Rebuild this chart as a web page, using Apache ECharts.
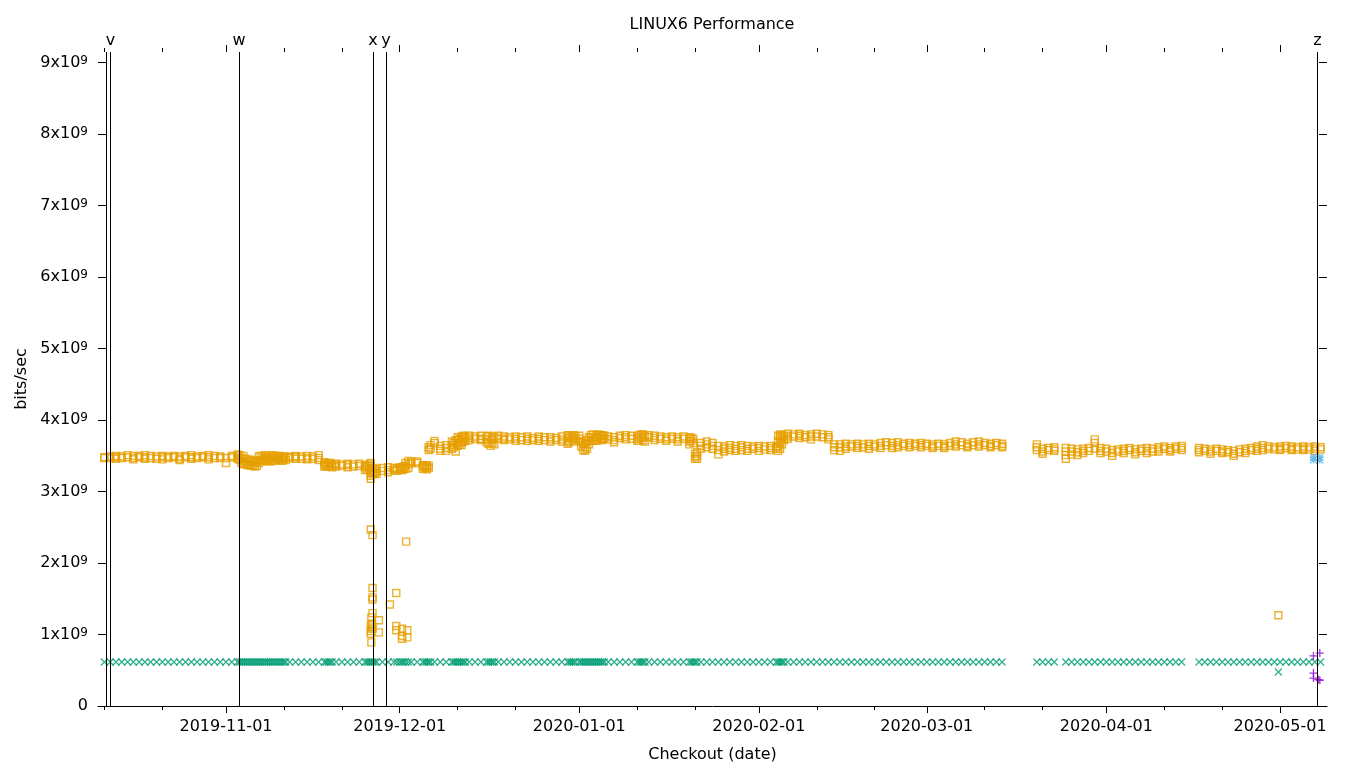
<!DOCTYPE html>
<html><head><meta charset="utf-8">
<script src="https://cdn.jsdelivr.net/npm/echarts@6/dist/echarts.min.js"></script>
<style>html,body{margin:0;padding:0;background:#fff}#c{width:1360px;height:768px}</style>
</head><body><div id="c"></div>
<script>
// ---- data (days counted from 2019-10-01 UTC, values in units of 1e9 bits/sec) ----
const monthTicks = ['2019-11-01','2019-12-01','2020-01-01','2020-02-01','2020-03-01','2020-04-01','2020-05-01'];
const minorTickDates = ['2019-10-11','2019-10-21','2019-11-11','2019-11-21','2019-12-11','2019-12-21','2020-01-11','2020-01-21',
  '2020-02-11','2020-02-21','2020-03-11','2020-03-21','2020-04-11','2020-04-21'];
const yTicksG = [0,1,2,3,4,5,6,7,8,9];

const checkoutDays = [
 10,11,12,13,14,15,16,17,18,19,20,21,22,23,24,25,26,27,28,29,30,31,32,
 33,33.33,33.67,34,34.33,34.67,35,35.33,35.67,36,36.33,36.67,37,37.33,37.67,38,38.33,38.67,39,39.33,39.67,40,40.33,40.67,41,41.33,
 42,43,44,45,46,47,48,48.33,48.67,49,49.33,50,51,52,53,54,55,55.33,55.67,56,56.33,56.67,57,58,59,60,60.5,61,61.33,61.67,62,62.5,
 63,64,65,65.33,65.67,66,66.33,67,68,69,70,70.33,70.67,71,71.33,71.67,72,72.33,73,74,75,76,76.33,76.67,77,77.33,78,79,80,81,82,83,
 84,85,86,87,88,89,90,90.33,90.67,91,91.33,92,92.33,92.67,93,93.33,93.67,94,94.33,94.67,95,95.33,95.67,96,96.33,97,98,99,100,101,
 102,102.33,102.67,103,103.33,104,105,106,107,108,109,110,111,111.33,111.67,112,112.33,113,114,115,116,117,118,119,120,121,122,123,
 124,125,126,126.33,126.67,127,127.33,128,129,130,131,132,133,134,135,
 136,137,138,139,140,141,142,143,144,145,146,147,148,149,150,151,152,153,154,155,156,157,158,159,160,161,162,163,164,165,
 171,172,173,174,
 176,177,178,179,180,181,182,183,184,185,186,187,188,189,190,191,192,193,194,195,196,
 199,200,201,202,203,204,205,206,207,208,209,210,211,212,213,214,215,216,217,218,219,220
];
const squareRuns = [
 [3.48,3.47],[3.49,3.47],[3.50,3.48,3.46],[3.49,3.47],[3.51,3.48],[3.50,3.47,3.45],[3.50,3.48],[3.51,3.48,3.46],[3.50,3.47],[3.49,3.46],
 [3.50,3.48,3.45],[3.49,3.47],[3.50,3.48],[3.49,3.46,3.44],[3.50,3.48],[3.51,3.48,3.46],[3.49,3.47],[3.50,3.48],[3.51,3.48,3.45],[3.50,3.47],
 [3.49,3.47],[3.40,3.47],[3.50,3.48],
 [3.52,3.49,3.46],[3.51,3.44],[3.47,3.40],[3.50,3.42,3.38],[3.46,3.39],[3.43,3.37],[3.45,3.38],[3.42,3.36],[3.44,3.37],[3.41,3.35],
 [3.43,3.36],[3.49,3.40],[3.50,3.44],[3.47,3.42],[3.51,3.45],[3.48,3.43],[3.50,3.44],[3.47,3.42],[3.51,3.46],[3.49,3.43],[3.50,3.45],
 [3.48,3.44],[3.50,3.46],[3.47,3.43],[3.49,3.45],[3.48,3.44],
 [3.49,3.47],[3.50,3.48,3.46],[3.49,3.46],[3.50,3.47,3.45],[3.49,3.46],[3.51,3.47,3.44],[3.41,3.37,3.35],[3.39,3.35],[3.40,3.36],
 [3.40,3.36],[3.38,3.34],[3.39,3.37,3.35],[3.38,3.36],[3.39,3.37,3.34],[3.38,3.35],[3.39,3.36],[3.37,3.34,3.30],[3.36,3.31],[3.38,3.33],
 [3.40,3.36,3.31,3.26,3.22,3.18],[3.33,3.28,3.24],[3.31,3.26],[3.32,3.28,3.25],[3.33,3.29],[3.34,3.30,3.27],[3.33,3.30],[3.32,3.29],
 [3.34,3.31],[3.33,3.30],[3.35,3.31],[3.40,3.36,3.32],[3.43,3.38,3.33],
 [3.42,3.40],[3.42,3.40],[3.37,3.35,3.32],[3.36,3.33],[3.37,3.34,3.31],[3.36,3.33,3.62,3.58],[3.65,3.60],[3.71,3.68],[3.64,3.60,3.57],
 [3.65,3.61,3.57],[3.70,3.65,3.60],[3.68,3.62],[3.72,3.56],[3.76,3.72,3.68,3.64],[3.74,3.66],[3.77,3.73,3.69,3.65],[3.78,3.74,3.70],
 [3.76,3.71],[3.78,3.75,3.72],[3.77,3.74],[3.78,3.74,3.72],[3.77,3.73,3.69],[3.78,3.67],[3.74,3.64],[3.77,3.72,3.68],[3.76,3.66],
 [3.78,3.74],[3.77,3.74,3.72],[3.76,3.73],[3.77,3.74,3.71],[3.76,3.72],[3.77,3.74,3.71],
 [3.75,3.72],[3.77,3.74,3.71],[3.76,3.72],[3.76,3.73,3.70],[3.75,3.72],[3.77,3.73,3.70],[3.79,3.75,3.71,3.67],[3.78,3.69],[3.77,3.73],
 [3.79,3.75,3.71],[3.77,3.73],[3.78,3.74,3.70],[3.70,3.63],[3.66,3.58],[3.68,3.62,3.57],[3.72,3.60],[3.76,3.66],[3.79,3.75,3.71],
 [3.80,3.72],[3.76,3.71],[3.79,3.75,3.71],[3.80,3.76],[3.78,3.73],[3.79,3.75,3.72],[3.78,3.74],[3.77,3.73],[3.76,3.72,3.69],[3.78,3.75],
 [3.79,3.76,3.73],[3.78,3.74],
 [3.77,3.74,3.71],[3.79,3.71],[3.80,3.75],[3.80,3.76,3.72],[3.78,3.70],[3.79,3.76],[3.78,3.75,3.72],[3.77,3.74],[3.76,3.73,3.71],
 [3.77,3.74],[3.76,3.73,3.70],[3.77,3.74],[3.76,3.73,3.70,3.66],[3.75,3.71],[3.74,3.68],[3.53,3.49,3.46],[3.55,3.50,3.46],
 [3.68,3.64,3.60],[3.70,3.66,3.62],[3.68,3.64,3.60],[3.64,3.58,3.52],[3.63,3.60,3.56],[3.65,3.61,3.58],[3.64,3.60,3.57],[3.65,3.62,3.58],
 [3.64,3.60,3.57],[3.63,3.60],[3.64,3.61,3.57],
 [3.63,3.59],[3.64,3.61,3.58],[3.63,3.60],[3.78,3.70,3.63,3.57],[3.80,3.76,3.68,3.60],[3.79,3.74,3.66],[3.78,3.72],[3.81,3.77,3.74],
 [3.80,3.77],[3.81,3.78,3.75],[3.79,3.76],[3.80,3.77,3.73],[3.81,3.77],[3.80,3.76],[3.79,3.76,3.73],
 [3.66,3.62,3.58],[3.66,3.62,3.57],[3.67,3.63,3.60],[3.66,3.63],[3.67,3.64,3.61],[3.66,3.62],[3.67,3.64,3.60],[3.66,3.63],
 [3.68,3.64,3.61],[3.69,3.65],[3.68,3.64,3.61],[3.69,3.65,3.62],[3.67,3.64],[3.68,3.65,3.62],[3.67,3.64],[3.68,3.65,3.62],[3.67,3.64],
 [3.66,3.63,3.61],[3.67,3.64],[3.66,3.63,3.61],[3.68,3.64],[3.70,3.66,3.63],[3.69,3.65],[3.67,3.64,3.62],[3.69,3.65],[3.70,3.66,3.63],
 [3.68,3.65],[3.67,3.64,3.62],[3.68,3.65],[3.67,3.64,3.62],
 [3.66,3.62,3.58],[3.60,3.56,3.53],[3.61,3.58],[3.62,3.59,3.57],
 [3.61,3.56,3.51,3.46],[3.60,3.56,3.52],[3.59,3.55,3.51],[3.60,3.57,3.54],[3.61,3.57],[3.73,3.68,3.60],[3.61,3.57,3.54],[3.60,3.56],
 [3.58,3.54,3.50],[3.59,3.56],[3.60,3.57,3.54],[3.61,3.58],[3.59,3.55,3.52],[3.60,3.57],[3.61,3.57,3.54],[3.60,3.56],[3.62,3.59,3.56],
 [3.63,3.60],[3.61,3.58,3.56],[3.63,3.60],[3.64,3.61,3.58],
 [3.61,3.58,3.55],[3.60,3.57],[3.59,3.56,3.53],[3.60,3.57],[3.59,3.56,3.54],[3.58,3.55],[3.57,3.53,3.50],[3.59,3.55],[3.60,3.57,3.54],
 [3.61,3.58],[3.63,3.60,3.57],[3.65,3.61,3.58],[3.63,3.60],[3.62,3.59],[3.63,3.60,3.58],[3.64,3.61],[3.63,3.60,3.58],[3.62,3.59],
 [3.63,3.60,3.58],[3.62,3.59],[3.63,3.60,3.57],[3.62,3.59]
];
// low outlier runs of the same measurement
const outlierDays = [56.0,56.3,56.3,56.3,56.3,56.3,56.1,56.0,56.3,56.0,56.1,56.2,56.2,56.0,57.4,57.4,59.3,60.4,60.4,60.4,61.4,61.4,61.4,62.3,62.3,62.1,212.7];
const outlierVals = [2.47,2.39,1.65,1.52,1.49,1.30,1.24,1.13,1.08,1.01,0.89,1.15,1.10,1.05,1.20,1.03,1.42,1.58,1.12,1.06,1.08,0.98,0.94,1.06,0.96,2.30,1.27];
// second metric (x marks): flat row read at 0.615e9, plus one low point
const crossLevel = 0.615;
const crossOutDays = [212.7];
const crossOutVals = [0.475];
// last checkout extra metrics
const starDays = [218.76,219.86,218.76,219.86];
const starVals = [3.48,3.48,3.44,3.44];
const plusDays = [218.76,219.86,218.76,218.76,219.86,219.6];
const plusVals = [0.70,0.74,0.46,0.39,0.36,0.37];
// commit markers
const markerNames = ['', 'v', 'w', 'x', 'y', 'z'];
const markerDays = [10.36, 11.06, 33.24, 56.38, 58.63, 219.45];
const xRangeDays = [8.9, 221.1];
const yMaxG = 9.15;

// ---- build ----
const DAY = 86400000, T0 = Date.UTC(2019, 9, 1);
const toT = d => T0 + d * DAY;
const parseD = s => { const p = s.split('-').map(Number); return Date.UTC(p[0], p[1]-1, p[2]); };
const G = 1e9;
const FONT = 'DejaVu Sans';

const sqData = [];
checkoutDays.forEach((d, i) => squareRuns[i].forEach(v => sqData.push([toT(d), v * G])));
outlierDays.forEach((d, i) => sqData.push([toT(d), outlierVals[i] * G]));
const crossData = checkoutDays.map(d => [toT(d), crossLevel * G]);
crossOutDays.forEach((d, i) => crossData.push([toT(d), crossOutVals[i] * G]));
const starData = starDays.map((d, i) => [toT(d), starVals[i] * G]);
const plusData = plusDays.map((d, i) => [toT(d), plusVals[i] * G]);

const majorT = monthTicks.map(parseD);
const minorT = minorTickDates.map(parseD);
const yTicks = yTicksG.map(v => v * G);
const xmin = toT(xRangeDays[0]), xmax = toT(xRangeDays[1]);

const baseX = (pos, ticks, len, showLine, showLabel) => ({
  type: 'time', gridIndex: 0, position: pos, min: xmin, max: xmax,
  axisLine: { show: showLine, lineStyle: { color: '#000', width: 1 } },
  axisTick: { show: true, inside: false, length: len, customValues: ticks, lineStyle: { color: '#000', width: 1 } },
  axisLabel: showLabel ? { show: true, customValues: majorT, formatter: '{yyyy}-{MM}-{dd}', color: '#000',
    fontFamily: FONT, fontSize: 16, margin: 13, hideOverlap: false } : { show: false },
  splitLine: { show: false }, minorTick: { show: false }
});

const xAxes = [
  Object.assign(baseX('bottom', majorT, 7, true, true), {
    name: 'Checkout (date)', nameLocation: 'middle', nameGap: 41,
    nameTextStyle: { color: '#000', fontFamily: FONT, fontSize: 16 } }),
  baseX('bottom', minorT, 4, false, false),
  baseX('top', majorT, 7, false, false),
  baseX('top', minorT, 4, false, false)
];

const yAxes = [
  { type: 'value', position: 'left', min: 0, max: yMaxG * G,
    axisLine: { show: false },
    axisTick: { show: true, inside: true, length: 8, customValues: yTicks, lineStyle: { color: '#000' } },
    axisLabel: { show: true, customValues: yTicks, margin: 10, color: '#000', fontFamily: FONT, fontSize: 16,
      formatter: v => v === 0 ? '{b|0}' : '{b|' + Math.round(v / G) + 'x10}{s|9}',
      rich: { b: { fontFamily: FONT, fontSize: 16, color: '#000' },
              s: { fontFamily: FONT, fontSize: 12, color: '#000', verticalAlign: 'top', padding: [0, 0, 4, 0] } } },
    splitLine: { show: false },
    name: 'bits/sec', nameLocation: 'middle', nameRotate: 90, nameGap: 63,
    nameTextStyle: { color: '#000', fontFamily: FONT, fontSize: 16 } },
  { type: 'value', position: 'right', min: 0, max: yMaxG * G,
    axisLine: { show: false },
    axisTick: { show: true, inside: true, length: 8, customValues: yTicks, lineStyle: { color: '#000' } },
    axisLabel: { show: false }, splitLine: { show: false } }
];

const symX = 'path://M0,0L10,10M10,0L0,10';
const symPlus = 'path://M5,0L5,10M0,5L10,5';
const symStar = 'path://M5,0L5,10M0,5L10,5M0,0L10,10M10,0L0,10';

const chart = echarts.init(document.getElementById('c'), null, { renderer: 'canvas' });
chart.setOption({
  useUTC: true,
  animation: false,
  backgroundColor: '#fff',
  title: { text: 'LINUX6 Performance', left: 712, top: 17, textAlign: 'center', padding: 0,
    textStyle: { color: '#000', fontFamily: FONT, fontSize: 16, fontWeight: 'normal' } },
  grid: { left: 98, right: 33, top: 52, bottom: 62, containLabel: false },
  xAxis: xAxes,
  yAxis: yAxes,
  series: [
    { type: 'scatter', name: 'x-metric', data: crossData, symbol: symX, symbolSize: 7, silent: true,
      itemStyle: { color: 'rgba(0,0,0,0)', borderColor: '#009E73', borderWidth: 1.3 },
      markLine: { silent: true, symbol: ['none', 'none'], animation: false,
        lineStyle: { color: '#000', width: 1, type: 'solid' },
        label: { show: true, position: 'end', distance: 3, formatter: p => p.name, color: '#000', fontFamily: FONT, fontSize: 16 },
        emphasis: { disabled: true },
        data: markerDays.map((d, i) => ({ xAxis: toT(d), name: markerNames[i] })) } },
    { type: 'scatter', name: 'bits', data: sqData, symbol: 'rect', symbolSize: 7, silent: true,
      itemStyle: { color: 'rgba(0,0,0,0)', borderColor: '#E69F00', borderWidth: 1.4 } },
    { type: 'scatter', name: 'star', data: starData, symbol: symStar, symbolSize: 7, silent: true,
      itemStyle: { color: 'rgba(0,0,0,0)', borderColor: '#56B4E9', borderWidth: 1.3 } },
    { type: 'scatter', name: 'plus', data: plusData, symbol: symPlus, symbolSize: 8, silent: true,
      itemStyle: { color: 'rgba(0,0,0,0)', borderColor: '#9400D3', borderWidth: 1.3 } }
  ]
});
</script></body></html>
